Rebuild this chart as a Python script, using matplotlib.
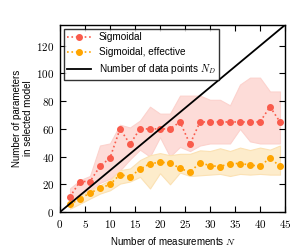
import matplotlib
matplotlib.use('Agg')
import matplotlib.pyplot as plt
import numpy as np

plt.rcParams['font.family'] = ['Liberation Sans', 'DejaVu Sans']
plt.rcParams['mathtext.fontset'] = 'cm'

# measurements
n_meas = [2, 4, 6, 8, 10, 12, 14, 16, 18, 20, 22, 24, 26, 28, 30, 32, 34, 36, 38, 40, 42, 44]

# sigmoidal: median and band
sig = [11, 22, 22, 33, 39, 60, 49, 60, 60, 60, 60, 65, 49, 65, 65, 65, 65, 65, 65, 65, 76, 65]
sig_hi = [17, 23, 26, 48, 49.5, 63, 61, 66, 76, 71, 71, 84, 84, 84, 81, 81, 77, 92, 97, 97, 87, 87]
sig_lo = [7.5, 13.5, 16, 21, 24, 30, 38, 45, 40, 54, 40, 47, 44, 48, 49.5, 49.5, 49.5, 60, 51, 49.5, 49.5, 49.5]

# sigmoidal effective
eff = [5.6, 9.5, 13.8, 17, 20, 27, 25.5, 30.8, 35, 35.8, 35.6, 31.5, 28.8, 35.6, 33.5, 32.8, 35, 35, 34, 33, 39, 33]
eff_hi = [8.5, 12, 15.7, 19.3, 23, 30.2, 31.4, 37.5, 41, 42.5, 41, 42, 42, 44.5, 44, 46, 44, 46.5, 44.7, 46.5, 45, 48]
eff_lo = [2.4, 6, 9.7, 13.3, 15.7, 20.5, 22, 25.4, 17, 28, 20, 28.5, 26, 26.5, 27, 27.5, 26, 27.5, 27, 27.5, 27, 27]

xticks = [0, 5, 10, 15, 20, 25, 30, 35, 40, 45]
yticks = [0, 20, 40, 60, 80, 100, 120]

red = '#f95b4c'
orange = '#ffa500'

fig = plt.figure(figsize=(3, 2.5), dpi=100)
ax = fig.add_axes([0.2, 0.152, 0.75, 0.748])

ax.fill_between(n_meas, sig_lo, sig_hi, color='#fddcd8', lw=0.8, edgecolor='#fcd2cd')
ax.fill_between(n_meas, eff_lo, eff_hi, color='#fdeccb', lw=0.8, edgecolor='#fbe1b3')

ax.plot(n_meas, sig, ':', color=red, marker='o', ms=4, mec=red, lw=1.2,
        label='Sigmoidal')
ax.plot(n_meas, eff, ':', color=orange, marker='o', ms=4, mec=orange, lw=1.2,
        label='Sigmoidal, effective')
nd = [0, 45]
ax.plot(nd, [3 * v for v in nd], '-', color='black', lw=1.3,
        label='Number of data points $N_D$')

ax.set_xlim(0, 45)
ax.set_ylim(0, 135)
ax.set_xticks(xticks)
ax.set_xticklabels(['$%d$' % v for v in xticks], fontsize=8)
ax.set_yticks(yticks)
ax.set_yticklabels(['$%d$' % v for v in yticks], fontsize=8)
ax.tick_params(direction='in', top=True, right=True, length=4, width=0.8, pad=4)
for s in ax.spines.values():
    s.set_linewidth(1.0)

ax.set_xlabel('Number of measurements $N$', fontsize=7)
ax.set_ylabel('Number of parameters\nin selected model', fontsize=7, labelpad=2)

leg = ax.legend(loc='upper left', fontsize=7.2, frameon=True, fancybox=False,
                borderpad=0.35, labelspacing=0.5, handlelength=2.4,
                borderaxespad=0.35, handletextpad=0.8)
leg.get_frame().set_edgecolor('black')
leg.get_frame().set_linewidth(1.0)

fig.savefig('out.png', dpi=100)
